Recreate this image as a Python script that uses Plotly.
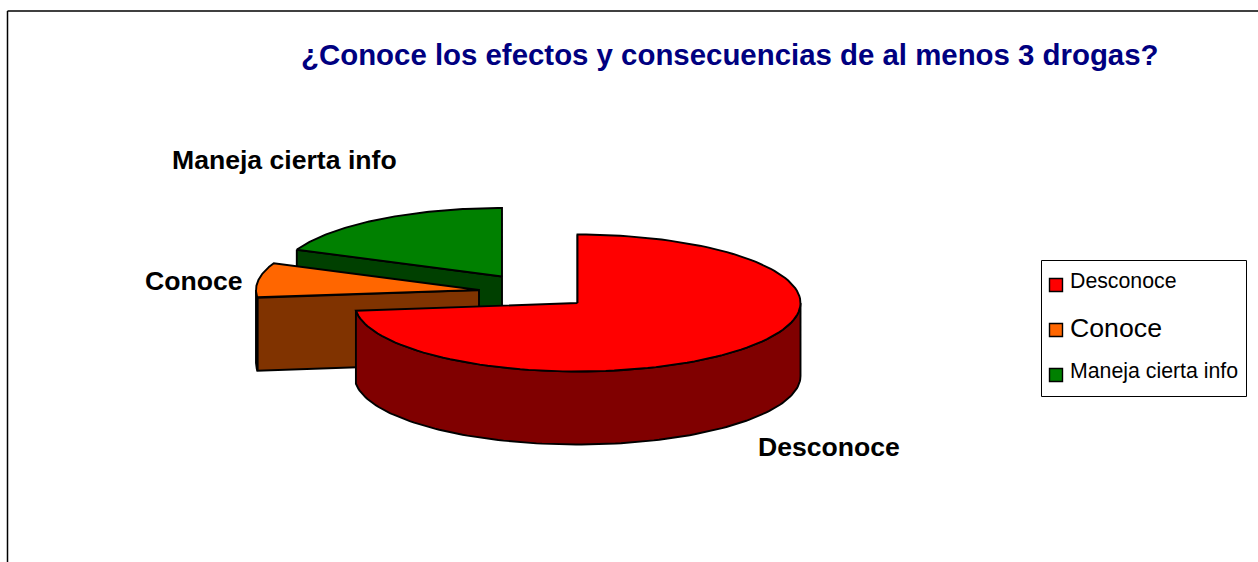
import numpy as np
import plotly.graph_objects as go

# datos de la grafica
titulo = "¿Conoce los efectos y consecuencias de al menos 3 drogas?"
categorias = ["Desconoce", "Conoce", "Maneja cierta info"]
valores = [73.2, 8.2, 18.6]

# colores de cada rebanada
color_top = ["#FF0000", "#FF6600", "#008000"]
color_lado = ["#800000", "#803300", "#004000"]

# geometria del pastel 3D, en pixeles de la pagina
W, H = 1258, 562
RX, RY, DEPTH = 223, 68.5, 73
centros = {"Desconoce": (577.5, 303), "Conoce": (479, 290), "Maneja cierta info": (502, 276.5)}
TINTA = "#000000"


def punto(c, ang):
  t = np.radians(ang)
  return c[0] + RX * np.sin(t), c[1] - RY * np.cos(t)


def arco(c, a0, a1):
  angs = np.linspace(a0, a1, 120)
  return punto(c, angs)


def poligono(xs, ys, color):
  return go.Scatter(x=list(xs), y=list(ys), mode="lines", fill="toself", fillcolor=color,
                    line=dict(color=TINTA, width=1.9), hoverinfo="skip", showlegend=False)


# angulos de cada rebanada, desde las 12 en sentido horario
fin = np.cumsum(valores) / np.sum(valores) * 360
inicio = np.concatenate([[0], fin[:-1]])

fig = go.Figure()

# se dibuja de atras hacia adelante: verde, naranja, rojo
for i in [2, 1, 0]:
  c = centros[categorias[i]]
  a0, a1 = inicio[i], fin[i]

  # cara del corte que mira al frente
  px0, py0 = punto(c, a0)
  fig.add_trace(poligono([px0, c[0], c[0], px0, px0],
                         [py0, c[1], c[1] + DEPTH, py0 + DEPTH, py0], color_lado[i]))

  # pared curva, solo la parte frontal (90 a 270 grados)
  p0, p1 = max(a0, 90), min(a1, 270)
  if p1 > p0:
    ax, ay = arco(c, p0, p1)
    fig.add_trace(poligono(np.concatenate([ax, ax[::-1], ax[:1]]),
                           np.concatenate([ay, ay[::-1] + DEPTH, ay[:1]]), color_lado[i]))

  # tapa
  ax, ay = arco(c, a0, a1)
  fig.add_trace(poligono(np.concatenate([[c[0]], ax, [c[0]]]),
                         np.concatenate([[c[1]], ay, [c[1]]]), color_top[i]))

# marco exterior (cortado a la derecha y abajo)
fig.add_shape(type="line", x0=7.5, x1=W, y0=11, y1=11, line=dict(color=TINTA, width=1.5))
fig.add_shape(type="line", x0=7.5, x1=7.5, y0=11, y1=H, line=dict(color=TINTA, width=1.5))

# leyenda a mano porque cada entrada lleva su propio tamaño de letra
fig.add_shape(type="rect", x0=1041.5, x1=1246.5, y0=260.5, y1=396.5, layer="below",
              line=dict(color=TINTA, width=1), fillcolor="white")
ley_y = [285, 330, 375]
ley_size = [21.3, 26.7, 21.3]
fig.add_trace(go.Scatter(x=[1056] * 3, y=ley_y, mode="markers", hoverinfo="skip", showlegend=False,
                         marker=dict(symbol="square", size=13, color=color_top,
                                     line=dict(color=TINTA, width=1.4))))
for nombre, y, s in zip(categorias, [281, 328, 371], ley_size):
  fig.add_annotation(x=1068, y=y, text=nombre, showarrow=False, xanchor="left", yanchor="middle",
                     font=dict(size=s, color="black"))

# etiquetas de las rebanadas
lab_x = [828.5, 193.5, 284]
lab_y = [447, 281, 160]
for nombre, x, y in zip(categorias, lab_x, lab_y):
  fig.add_annotation(x=x, y=y, text="<b>" + nombre + "</b>", showarrow=False,
                     font=dict(size=26.6, color="black"))

fig.add_annotation(x=730, y=54, text="<b>" + titulo + "</b>", showarrow=False,
                   font=dict(size=29.4, color="#000080"))

fig.update_xaxes(range=[0, W], visible=False, fixedrange=True)
fig.update_yaxes(range=[H, 0], visible=False, fixedrange=True)
fig.update_layout(width=W, height=H, margin=dict(l=0, r=0, t=0, b=0), showlegend=False,
                  paper_bgcolor="white", plot_bgcolor="white",
                  font=dict(family="Liberation Sans"))

fig.write_html("out.html", config=dict(displayModeBar=False),
               post_script="document.body.style.margin='0';document.body.style.overflow='hidden';")
